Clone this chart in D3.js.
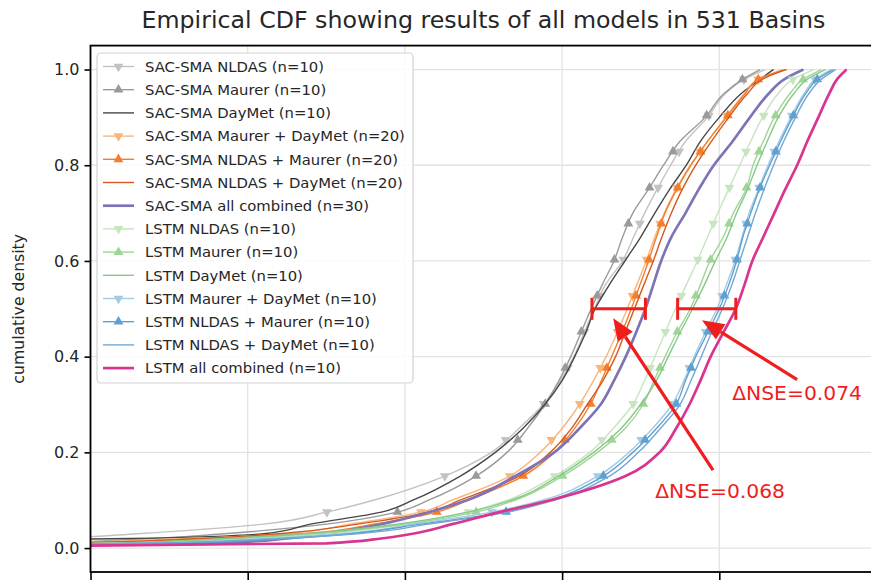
<!DOCTYPE html>
<html>
<head>
<meta charset="utf-8">
<script src="https://cdn.jsdelivr.net/npm/d3@7"></script>
<style>
  html, body { margin: 0; padding: 0; background: #fff; }
  svg { display: block; font-family: "DejaVu Sans", sans-serif; }
</style>
</head>
<body>
<svg id="chart" width="871" height="583"></svg>
<script>
// Cumulative density levels at which each model's NSE quantile is given
const cdfLevels = [0, 0.01, 0.02, 0.03, 0.05, 0.075, 0.1, 0.15, 0.2, 0.25, 0.3, 0.35, 0.4, 0.45, 0.5, 0.55, 0.6, 0.65, 0.7, 0.75, 0.8, 0.85, 0.9, 0.95, 0.98, 1.0];

// NSE quantiles per model (same order as cdfLevels)
const sacNldas        = [-1.0, -0.3, -0.05, 0.06, 0.22, 0.30, 0.36, 0.45, 0.51, 0.545, 0.576, 0.598, 0.615, 0.628, 0.641, 0.655, 0.677, 0.691, 0.705, 0.721, 0.738, 0.757, 0.785, 0.808, 0.832, 0.858];
const sacMaurer       = [-1.2, -0.1, 0.08, 0.17, 0.30, 0.39, 0.43, 0.49, 0.53, 0.556, 0.578, 0.596, 0.611, 0.624, 0.637, 0.651, 0.666, 0.677, 0.690, 0.710, 0.729, 0.750, 0.782, 0.806, 0.830, 0.852];
const sacDaymet       = [-1.0, -0.4, 0.05, 0.22, 0.28, 0.37, 0.41, 0.47, 0.515, 0.55, 0.578, 0.600, 0.616, 0.630, 0.642, 0.660, 0.680, 0.700, 0.718, 0.737, 0.758, 0.776, 0.800, 0.828, 0.852, 0.869];
const sacMaurerDaymet = [-1.0, -0.1, 0.12, 0.25, 0.33, 0.42, 0.46, 0.533, 0.572, 0.60, 0.622, 0.640, 0.656, 0.670, 0.683, 0.695, 0.707, 0.718, 0.730, 0.745, 0.763, 0.785, 0.808, 0.832, 0.850, 0.880];
const sacNldasMaurer  = [-1.1, -0.05, 0.15, 0.27, 0.36, 0.44, 0.48, 0.55, 0.59, 0.616, 0.636, 0.650, 0.663, 0.676, 0.688, 0.699, 0.710, 0.720, 0.731, 0.746, 0.764, 0.785, 0.809, 0.833, 0.850, 0.886];
const sacNldasDaymet  = [-0.9, -0.05, 0.14, 0.24, 0.34, 0.43, 0.47, 0.545, 0.585, 0.612, 0.632, 0.652, 0.668, 0.680, 0.692, 0.704, 0.716, 0.727, 0.739, 0.753, 0.770, 0.790, 0.812, 0.836, 0.855, 0.884];
const sacAll          = [-0.3, 0.15, 0.25, 0.30, 0.37, 0.43, 0.479, 0.54, 0.59, 0.622, 0.649, 0.666, 0.681, 0.694, 0.706, 0.716, 0.726, 0.739, 0.757, 0.774, 0.793, 0.817, 0.839, 0.863, 0.883, 0.907];
const lstmNldas       = [-0.6, 0.05, 0.20, 0.30, 0.40, 0.48, 0.53, 0.59, 0.635, 0.665, 0.690, 0.705, 0.718, 0.731, 0.744, 0.758, 0.772, 0.785, 0.798, 0.812, 0.826, 0.840, 0.855, 0.875, 0.894, 0.920];
const lstmMaurer      = [-0.7, 0.03, 0.18, 0.28, 0.40, 0.49, 0.54, 0.60, 0.645, 0.680, 0.703, 0.717, 0.731, 0.746, 0.763, 0.776, 0.788, 0.805, 0.818, 0.834, 0.843, 0.856, 0.870, 0.890, 0.907, 0.930];
const lstmDaymet      = [-0.8, 0.02, 0.17, 0.27, 0.39, 0.48, 0.535, 0.595, 0.640, 0.675, 0.700, 0.720, 0.735, 0.750, 0.766, 0.781, 0.795, 0.810, 0.822, 0.836, 0.848, 0.861, 0.875, 0.895, 0.912, 0.935];
const lstmMaurerDaymet= [-0.6, 0.06, 0.22, 0.32, 0.41, 0.51, 0.575, 0.645, 0.685, 0.715, 0.740, 0.755, 0.768, 0.782, 0.797, 0.809, 0.820, 0.829, 0.838, 0.850, 0.862, 0.876, 0.891, 0.908, 0.922, 0.942];
const lstmNldasMaurer = [-0.5, 0.08, 0.25, 0.33, 0.42, 0.528, 0.585, 0.652, 0.690, 0.720, 0.745, 0.757, 0.770, 0.785, 0.800, 0.812, 0.822, 0.830, 0.840, 0.851, 0.864, 0.878, 0.893, 0.910, 0.925, 0.945];
const lstmNldasDaymet = [-0.5, 0.07, 0.24, 0.34, 0.43, 0.53, 0.59, 0.660, 0.697, 0.725, 0.750, 0.764, 0.777, 0.790, 0.804, 0.816, 0.826, 0.836, 0.846, 0.857, 0.869, 0.882, 0.897, 0.914, 0.930, 0.948];
const lstmAll         = [-0.3, 0.30, 0.37, 0.41, 0.46, 0.52, 0.585, 0.680, 0.724, 0.745, 0.762, 0.776, 0.789, 0.805, 0.821, 0.832, 0.842, 0.856, 0.870, 0.884, 0.899, 0.912, 0.926, 0.940, 0.950, 0.962];

const seriesNames = [
  "SAC-SMA NLDAS (n=10)", "SAC-SMA Maurer (n=10)", "SAC-SMA DayMet (n=10)",
  "SAC-SMA Maurer + DayMet (n=20)", "SAC-SMA NLDAS + Maurer (n=20)", "SAC-SMA NLDAS + DayMet (n=20)",
  "SAC-SMA all combined (n=30)",
  "LSTM NLDAS (n=10)", "LSTM Maurer (n=10)", "LSTM DayMet (n=10)",
  "LSTM Maurer + DayMet (n=10)", "LSTM NLDAS + Maurer (n=10)", "LSTM NLDAS + DayMet (n=10)",
  "LSTM all combined (n=10)"
];
const seriesValues = [
  sacNldas, sacMaurer, sacDaymet, sacMaurerDaymet, sacNldasMaurer, sacNldasDaymet, sacAll,
  lstmNldas, lstmMaurer, lstmDaymet, lstmMaurerDaymet, lstmNldasMaurer, lstmNldasDaymet, lstmAll
];
const seriesColors = [
  "#c2c2c2", "#9a9a9a", "#474747", "#fbb479", "#f47d2c", "#d4591f", "#7d74b8",
  "#c5e6be", "#9fd597", "#86c985", "#a4cbe3", "#5fa0d1", "#72a8d2", "#d9348f"
];
const seriesMarkers = ["down", "up", "none", "down", "up", "none", "none",
                       "down", "up", "none", "down", "up", "none", "none"];
const seriesWidths = [1.4, 1.4, 1.4, 1.4, 1.4, 1.4, 2.7, 1.4, 1.4, 1.4, 1.4, 1.4, 1.4, 2.7];

const xTicks = [0, 0.2, 0.4, 0.6, 0.8, 1.0];
const yTicks = [0, 0.2, 0.4, 0.6, 0.8, 1.0];
const basinCount = 531;
const markEvery = 40;

// Median gaps: start NSE of each bar and the NSE difference it spans
const deltaStarts = [0.638, 0.747];
const deltaValues = [0.068, 0.074];

// ---------------------------------------------------------------
const svg = d3.select("#chart");
const plot = { left: 90.5, right: 876.5, top: 45.6, bottom: 572 };

const x = d3.scaleLinear().domain([0, 1]).range([plot.left, plot.right]);
const y = d3.scaleLinear().domain([-0.05, 1.05]).range([plot.bottom, plot.top]);

svg.append("defs").append("clipPath").attr("id", "plotClip")
  .append("rect")
  .attr("x", plot.left).attr("y", plot.top)
  .attr("width", plot.right - plot.left).attr("height", plot.bottom - plot.top);

// grid
const grid = svg.append("g");
grid.selectAll("line.gx").data(xTicks).join("line")
  .attr("x1", d => x(d)).attr("x2", d => x(d))
  .attr("y1", plot.top).attr("y2", plot.bottom)
  .attr("stroke", "#e3e3e3").attr("stroke-width", 1.3);
grid.selectAll("line.gy").data(yTicks).join("line")
  .attr("x1", plot.left).attr("x2", plot.right)
  .attr("y1", d => y(d)).attr("y2", d => y(d))
  .attr("stroke", "#e3e3e3").attr("stroke-width", 1.3);

// CDF curves (quantile function, smooth in y)
const curves = svg.append("g").attr("clip-path", "url(#plotClip)");
const lineGen = d3.line().x(d => x(d[0])).y(d => y(d[1])).curve(d3.curveMonotoneY);
const markerLevels = d3.range(0, basinCount, markEvery).map(i => i / basinCount);
const triUp = d3.symbol().type(d3.symbolTriangle).size(42)();

seriesValues.forEach((vals, i) => {
  const pts = vals.map((v, k) => [v, cdfLevels[k]]);
  curves.append("path")
    .attr("d", lineGen(pts))
    .attr("fill", "none")
    .attr("stroke", seriesColors[i])
    .attr("stroke-width", seriesWidths[i])
    .attr("stroke-linejoin", "round");
  if (seriesMarkers[i] !== "none") {
    const q = d3.scaleLinear().domain(cdfLevels).range(vals);
    curves.selectAll(null).data(markerLevels).join("path")
      .attr("d", triUp)
      .attr("transform", l => `translate(${x(q(l))},${y(l)})` + (seriesMarkers[i] === "down" ? " rotate(180)" : ""))
      .attr("fill", seriesColors[i]);
  }
});

// axes (x tick labels fall below the figure edge, so only the marks are kept)
const axL = svg.append("g").attr("transform", `translate(${plot.left},0)`)
  .call(d3.axisLeft(y).tickValues(yTicks).tickFormat(d3.format(".1f")).tickSize(6).tickPadding(5));
const axB = svg.append("g").attr("transform", `translate(0,${plot.bottom})`)
  .call(d3.axisBottom(x).tickValues(xTicks).tickFormat("").tickSize(8));
[axL, axB].forEach(a => {
  a.select(".domain").remove();
  a.selectAll(".tick line").attr("stroke", "#000").attr("stroke-width", 1.6);
  a.selectAll(".tick text").attr("font-family", "DejaVu Sans").attr("font-size", 16).attr("fill", "#262626");
});

// frame
svg.append("rect")
  .attr("x", plot.left).attr("y", plot.top)
  .attr("width", plot.right - plot.left).attr("height", plot.bottom - plot.top)
  .attr("fill", "none").attr("stroke", "#000").attr("stroke-width", 1.8);

// titles
svg.append("text")
  .attr("x", (plot.left + plot.right) / 2).attr("y", 28)
  .attr("text-anchor", "middle").attr("font-size", 23.7).attr("fill", "#262626")
  .text("Empirical CDF showing results of all models in 531 Basins");
svg.append("text")
  .attr("transform", `translate(24,${(plot.top + plot.bottom) / 2}) rotate(-90)`)
  .attr("text-anchor", "middle").attr("font-size", 15.7).attr("fill", "#262626")
  .text("cumulative density");

// ΔNSE bars and arrows
const red = "#f01d1d";
const ann = svg.append("g");
const capH = 11;
deltaStarts.forEach((s, i) => {
  const x0 = x(s), x1 = x(s + deltaValues[i]), yy = y(0.5);
  ann.append("line").attr("x1", x0).attr("x2", x1).attr("y1", yy).attr("y2", yy)
    .attr("stroke", red).attr("stroke-width", 3);
  [x0, x1].forEach(xx => ann.append("line")
    .attr("x1", xx).attr("x2", xx).attr("y1", yy - capH).attr("y2", yy + capH)
    .attr("stroke", red).attr("stroke-width", 3));
});

function arrow(tip, tail) {
  const dx = tip[0] - tail[0], dy = tip[1] - tail[1];
  const len = Math.hypot(dx, dy), ux = dx / len, uy = dy / len;
  const headL = 22, headW = 9;
  const bx = tip[0] - ux * headL, by = tip[1] - uy * headL;
  ann.append("line").attr("x1", tail[0]).attr("y1", tail[1]).attr("x2", bx).attr("y2", by)
    .attr("stroke", red).attr("stroke-width", 3.2);
  ann.append("path")
    .attr("d", `M${tip[0]},${tip[1]}L${bx - uy * headW},${by + ux * headW}L${bx + uy * headW},${by - ux * headW}Z`)
    .attr("fill", red);
}
// annotation layout: arrow tip, arrow tail and label centre in data coordinates
const annLayout = [
  { tip: [0.665, 0.48], tail: [0.792, 0.163], label: [0.801, 0.105] },
  { tip: [0.778, 0.476], tail: [0.899, 0.352], label: [0.899, 0.309] }
];
annLayout.forEach((a, i) => {
  arrow([x(a.tip[0]), y(a.tip[1])], [x(a.tail[0]), y(a.tail[1])]);
  ann.append("text")
    .attr("x", x(a.label[0])).attr("y", y(a.label[1]))
    .attr("text-anchor", "middle").attr("font-size", 20.3).attr("fill", red)
    .text(`ΔNSE=${deltaValues[i].toFixed(3)}`);
});

// legend
const lg = svg.append("g");
const lgX = 97, lgY = 53, rowH = 23.2, firstRow = 66.5;
lg.append("rect").attr("x", lgX).attr("y", lgY).attr("width", 316).attr("height", 330)
  .attr("rx", 4).attr("fill", "#fff").attr("fill-opacity", 0.85)
  .attr("stroke", "#d3d3d3").attr("stroke-width", 1.2);
seriesNames.forEach((name, i) => {
  const yy = firstRow + i * rowH;
  lg.append("line").attr("x1", 103).attr("x2", 134).attr("y1", yy).attr("y2", yy)
    .attr("stroke", seriesColors[i]).attr("stroke-width", seriesWidths[i]);
  if (seriesMarkers[i] !== "none") {
    lg.append("path").attr("d", triUp)
      .attr("transform", `translate(118.5,${yy})` + (seriesMarkers[i] === "down" ? " rotate(180)" : ""))
      .attr("fill", seriesColors[i]);
  }
  lg.append("text").attr("x", 145).attr("y", yy).attr("dy", "0.36em")
    .attr("font-size", 14.8).attr("fill", "#262626").text(name);
});
</script>
</body>
</html>
